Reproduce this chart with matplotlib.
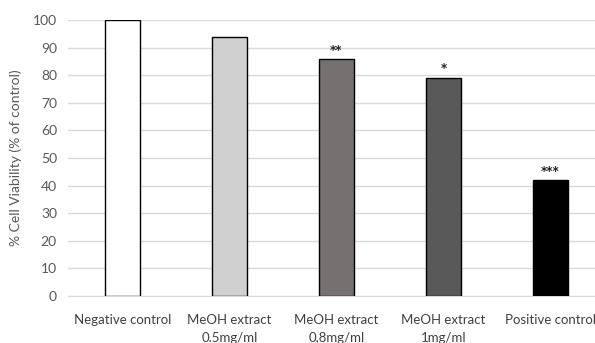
import numpy as np
import matplotlib.pyplot as plt

plt.rcParams['font.family'] = ['Lato', 'DejaVu Sans']

# 数据
categories = ['Negative control', 'MeOH extract\n0.5mg/ml', 'MeOH extract\n0,8mg/ml',
              'MeOH extract\n1mg/ml', 'Positive control']
viability = [100, 94, 85.7, 79.1, 42]
stars = ['', '', '**', '*', '***']
colors = ['#ffffff', '#d0d0d0', '#767171', '#595959', '#000000']

fig = plt.figure(figsize=(5.95, 3.43), dpi=100)
ax = fig.add_axes([68 / 595, 47 / 343, 527 / 595, 276 / 343])

x = np.arange(len(categories))
ax.bar(x, viability, width=0.327, color=colors, edgecolor='black', linewidth=1.0, zorder=3)

# 显著性星号
for xi, v, s in zip(x, viability, stars):
    if s:
        ax.text(xi, v + 0.8, s, ha='center', va='bottom', fontsize=8.5,
                fontweight='bold', family='DejaVu Sans', color='#222222')

ax.set_xlim(-0.509, 4.416)
ax.set_ylim(0, 100)
ax.set_yticks(np.arange(0, 101, 10))
ax.yaxis.grid(True, color='#d9d9d9', linewidth=1.0, zorder=0)
ax.set_axisbelow(True)

for sp in ['top', 'right', 'left']:
    ax.spines[sp].set_visible(False)
ax.spines['bottom'].set_color('#d9d9d9')

ax.set_xticks(x)
ax.set_xticklabels(categories, fontsize=9.5, color='#404040', linespacing=1.6)
ax.tick_params(axis='x', length=0, pad=13)
ax.tick_params(axis='y', length=0, pad=8, labelsize=10, labelcolor='#595959')
ax.set_ylabel('% Cell Viability (% of control)', fontsize=10, color='#595959', labelpad=8)

fig.savefig('out.png', dpi=100)
